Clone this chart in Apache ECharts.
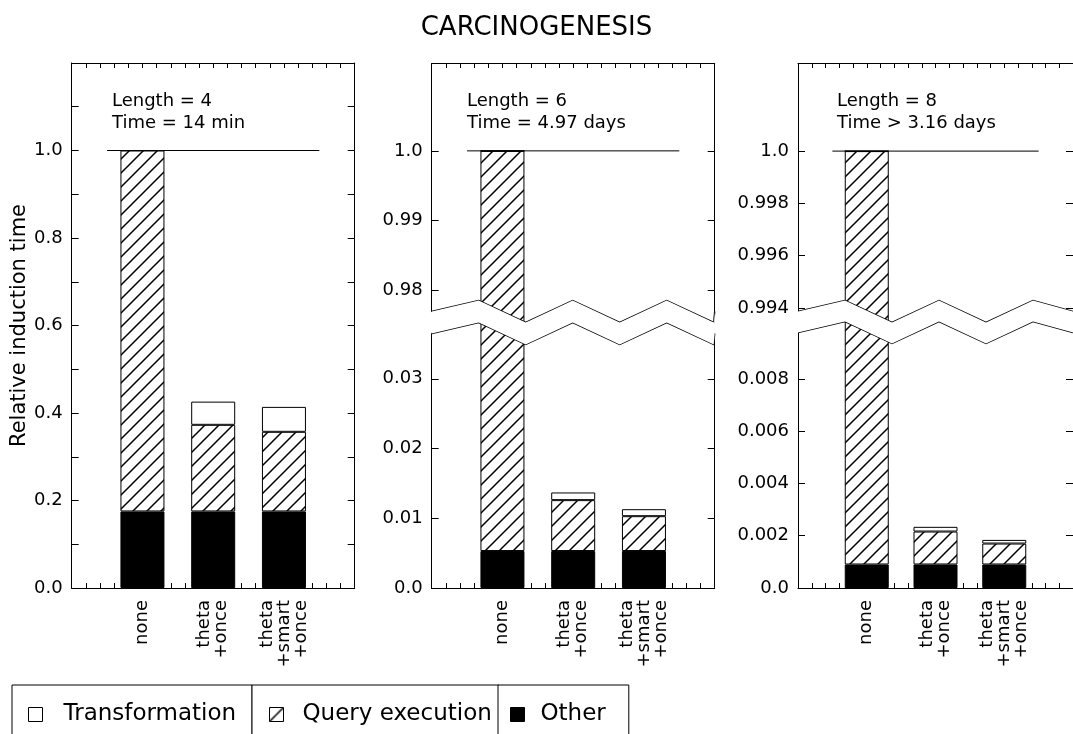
<!DOCTYPE html>
<html><head><meta charset="utf-8">
<script src="https://cdn.jsdelivr.net/npm/echarts@6/dist/echarts.min.js"></script>
<style>html,body{margin:0;padding:0;background:#fff}#c{width:1073px;height:734px}</style>
</head><body><div id="c"></div>
<script>
// ---- data ----
const categories = ['none', 'theta\n+once', 'theta\n+smart\n+once'];
const refLineX = [0.5, 3.5];
const refLineY = [1.0, 1.0];
const xTicks = [0,0.2,0.4,0.6,0.8,1,1.2,1.4,1.6,1.8,2,2.2,2.4,2.6,2.8,3,3.2,3.4,3.6,3.8,4];

// Length = 4
const p1Other = [0.175, 0.175, 0.175];
const p1Query = [0.825, 0.198, 0.182];
const p1Transf = [0, 0.053, 0.057];
const p1YTicks = [0,0.1,0.2,0.3,0.4,0.5,0.6,0.7,0.8,0.9,1.0,1.1,1.2];
const p1YLabels = [0,0.2,0.4,0.6,0.8,1.0];
const p1Text = 'Length = 4\nTime = 14 min';

// Length = 6
const p2Other = [0.0053, 0.0053, 0.0053];
const p2Query = [0.9947, 0.0073, 0.0050];
const p2Transf = [0, 0.0011, 0.0010];
const p2YTicks = [0,0.01,0.02,0.03,0.98,0.99,1.0];
const p2YLabels = [0,0.01,0.02,0.03,0.98,0.99,1.0];
const p2Break = [0.0366, 0.977];
const p2Text = 'Length = 6\nTime = 4.97 days';

// Length = 8
const p3Other = [0.0009, 0.0009, 0.0009];
const p3Query = [0.9991, 0.00126, 0.0008];
const p3Transf = [0, 0.00018, 0.00014];
const p3YTicks = [0,0.002,0.004,0.006,0.008,0.994,0.996,0.998,1.0];
const p3YLabels = [0,0.002,0.004,0.006,0.008,0.994,0.996,0.998,1.0];
const p3Break = [0.00977, 0.99388];
const p3Text = 'Length = 8\nTime > 3.16 days';

const panels = [
  {other:p1Other, query:p1Query, transf:p1Transf, ticks:p1YTicks, labels:p1YLabels, max:1.2, brk:null, text:p1Text, fixed:true},
  {other:p2Other, query:p2Query, transf:p2Transf, ticks:p2YTicks, labels:p2YLabels, max:1.0126, brk:p2Break, text:p2Text},
  {other:p3Other, query:p3Query, transf:p3Transf, ticks:p3YTicks, labels:p3YLabels, max:1.00337, brk:p3Break, text:p3Text}
];

// ---- layout / style ----
const FONT = 'DejaVu Sans';
const panelLeft = [71.7, 431.7, 798];
const textLeft = [112, 467, 837];

function hatch() {
  const s = 14, c = document.createElement('canvas');
  c.width = s; c.height = s;
  const g = c.getContext('2d');
  g.fillStyle = '#fff'; g.fillRect(0, 0, s, s);
  g.strokeStyle = '#000'; g.lineWidth = 1.5;
  g.beginPath();
  g.moveTo(0, s); g.lineTo(s, 0);
  g.moveTo(-2, 2); g.lineTo(2, -2);
  g.moveTo(s - 2, s + 2); g.lineTo(s + 2, s - 2);
  g.stroke();
  return c;
}
const hatchFill = {image: hatch(), repeat: 'repeat'};

const grids = [], xAxes = [], yAxes = [], series = [];
const titles = [{text: 'CARCINOGENESIS', left: 'center', top: 15, padding: 0,
  textStyle: {fontFamily: FONT, fontSize: 26, fontWeight: 'normal', color: '#000'}}];

const catSlots = [''].concat(categories, ['']);
const pad = vals => [null].concat(vals, [null]);
const lineStyle = {color: '#000', width: 1};

panels.forEach((p, i) => {
  grids.push({left: panelLeft[i], top: 63, width: 283, height: 525});
  titles.push({text: p.text, left: textLeft[i], top: 90, padding: 0,
    textStyle: {fontFamily: FONT, fontSize: 18, fontWeight: 'normal', color: '#000', lineHeight: 22}});

  xAxes.push({type: 'category', gridIndex: i, position: 'bottom', data: catSlots, boundaryGap: false,
    axisLine: {show: false}, axisTick: {show: false}, splitLine: {show: false},
    axisLabel: {show: true, interval: 0, rotate: 90, margin: 12, fontSize: 18, lineHeight: 17,
      fontFamily: FONT, color: '#000'}});
  const xBase = {type: 'value', gridIndex: i, min: 0, max: 4, splitLine: {show: false},
    axisLine: {show: true, onZero: false, lineStyle},
    axisTick: {show: true, inside: true, length: 5, customValues: xTicks, lineStyle},
    axisLabel: {show: false}};
  xAxes.push(Object.assign({}, xBase, {position: 'bottom'}));
  xAxes.push(Object.assign({}, xBase, {position: 'top'}));

  const fmt = v => v === 0 ? '0.0' : (v === 1 ? '1.0' : (p.fixed ? v.toFixed(1) : String(v)));
  const yBase = {type: 'value', gridIndex: i, min: 0, max: p.max, splitLine: {show: false},
    axisLine: {show: true, onZero: false, lineStyle},
    axisTick: {show: true, inside: true, length: 7, customValues: p.ticks, lineStyle}};
  if (p.brk) yBase.breaks = [{start: p.brk[0], end: p.brk[1], gap: '4.1%'}];
  const yLeft = Object.assign({}, yBase, {position: 'left',
    axisLabel: {show: true, customValues: p.labels, formatter: fmt, margin: 9, fontSize: 18, fontFamily: FONT, color: '#000'}});
  if (p.brk) {
    yLeft.breakArea = {show: true, expandOnClick: false,
      itemStyle: {color: '#fff', borderColor: '#000', borderWidth: 1.4, borderType: 'solid', opacity: 1},
      zigzagAmplitude: -11, zigzagMinSpan: 47, zigzagMaxSpan: 47, zigzagZ: 100};
  }
  if (i === 0) {
    Object.assign(yLeft, {name: 'Relative induction time', nameLocation: 'middle', nameGap: 40,
      nameTextStyle: {fontFamily: FONT, fontSize: 21, color: '#000'}});
  }
  yAxes.push(yLeft);
  const yRight = Object.assign({}, yBase, {position: 'right', axisLabel: {show: false}});
  if (p.brk) yRight.breakArea = {show: false};
  yAxes.push(yRight);

  const common = {type: 'bar', xAxisIndex: 3 * i, yAxisIndex: 2 * i, stack: 's' + i, barWidth: 44};
  series.push(Object.assign({}, common, {name: 'Other', data: pad(p.other),
    itemStyle: {color: '#000', borderColor: '#000', borderWidth: 1}}));
  series.push(Object.assign({}, common, {name: 'Query execution', data: pad(p.query),
    itemStyle: {color: hatchFill, borderColor: '#000', borderWidth: 1}}));
  series.push(Object.assign({}, common, {name: 'Transformation', data: pad(p.transf),
    itemStyle: {color: '#fff', borderColor: '#000', borderWidth: 1}}));
  series.push({type: 'line', name: 'ref' + i, xAxisIndex: 3 * i + 1, yAxisIndex: 2 * i, silent: true,
    symbol: 'none', z: 5, lineStyle: {color: '#000', width: 1},
    data: refLineX.map((x, k) => [x, refLineY[k]])});
});

const legTxt = {fontFamily: FONT, fontSize: 23, color: '#000'};
const legBase = {top: 685, orient: 'horizontal', icon: 'rect', itemWidth: 14, itemHeight: 14,
  borderColor: '#000', borderWidth: 1, borderRadius: 0, backgroundColor: '#fff', selectedMode: false};
const legends = [
  Object.assign({}, legBase, {left: 12, padding: [18, 16, 14, 16],
    data: [{name: 'Transformation', itemStyle: {color: '#fff', borderColor: '#000', borderWidth: 1}}],
    textStyle: Object.assign({padding: [0, 0, 0, 16]}, legTxt)}),
  Object.assign({}, legBase, {left: 252, padding: [18, 7, 14, 17],
    data: [{name: 'Query execution', itemStyle: {color: hatchFill, borderColor: '#000', borderWidth: 1}}],
    textStyle: Object.assign({padding: [0, 0, 0, 14]}, legTxt)}),
  Object.assign({}, legBase, {left: 498, padding: [18, 23, 14, 12],
    data: [{name: 'Other', itemStyle: {color: '#000', borderColor: '#000', borderWidth: 1}}],
    textStyle: Object.assign({padding: [0, 0, 0, 11]}, legTxt)})
];

const chart = echarts.init(document.getElementById('c'), null, {renderer: 'canvas'});
chart.setOption({
  animation: false,
  backgroundColor: '#fff',
  title: titles,
  grid: grids,
  xAxis: xAxes,
  yAxis: yAxes,
  legend: legends,
  series: series
});
</script></body></html>
